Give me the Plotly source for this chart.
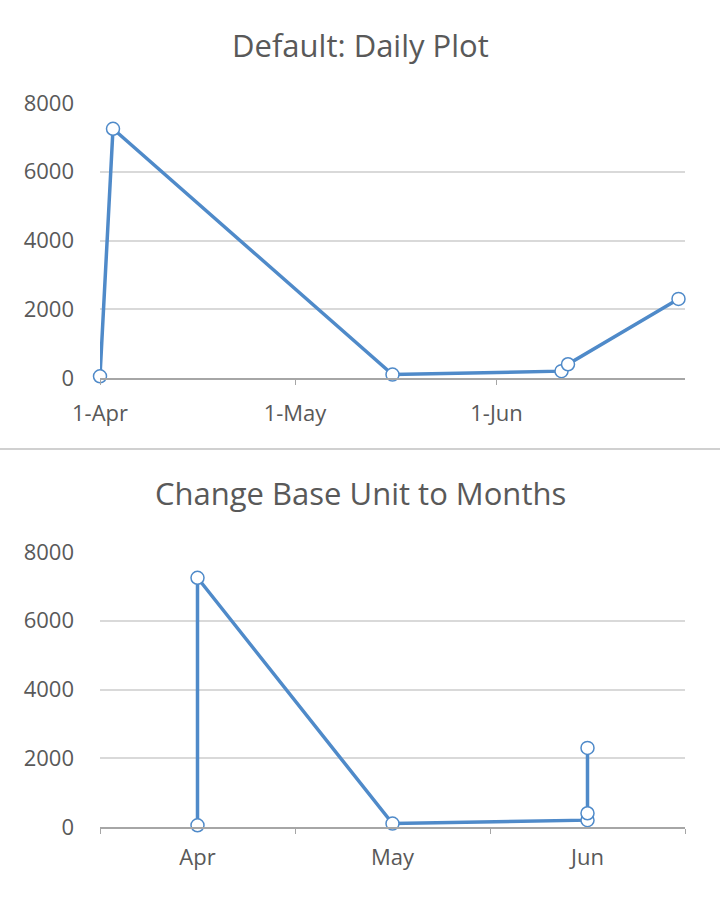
import plotly.graph_objects as go

# Data
dates = ["2023-04-01", "2023-04-03", "2023-05-16", "2023-06-11", "2023-06-12", "2023-06-29"]
values = [50, 7250, 100, 200, 400, 2300]
months = ["Apr", "Apr", "May", "Jun", "Jun", "Jun"]
month_cats = ["Apr", "May", "Jun"]
daily_tickvals = ["2023-04-01", "2023-05-01", "2023-06-01"]
daily_ticktext = ["1-Apr", "1-May", "1-Jun"]
titles = ["Default: Daily Plot", "Change Base Unit to Months"]

W, H = 720, 899
LINE = "#4f8ac9"
FONT = "Open Sans"
TXT = "#595959"

def py(px):
    return 1 - px / H

fig = go.Figure()

marker = dict(symbol="circle", size=13, color="white", line=dict(color=LINE, width=1.5))

fig.add_trace(go.Scatter(x=dates, y=values, mode="lines+markers",
                         line=dict(color=LINE, width=3.5), marker=marker, cliponaxis=False,
                         xaxis="x", yaxis="y", showlegend=False))
fig.add_trace(go.Scatter(x=months, y=values, mode="lines+markers",
                         line=dict(color=LINE, width=3.5), marker=marker, cliponaxis=False,
                         xaxis="x2", yaxis="y2", showlegend=False))

xd = [100 / W, 685 / W]
common_y = dict(range=[0, 8000], dtick=2000, showgrid=True, gridcolor="#d9d9d9", gridwidth=1.5,
                zeroline=False, showline=False, ticks="", automargin=False,
                tickfont=dict(family=FONT, size=22, color=TXT), ticklabelstandoff=25)
common_x = dict(showgrid=False, zeroline=False, showline=True, linecolor="#a6a6a6", linewidth=1.5,
                ticks="outside", ticklen=5, tickcolor="#a6a6a6", automargin=False,
                tickfont=dict(family=FONT, size=22, color=TXT), ticklabelstandoff=10)

fig.update_layout(
    width=W, height=H, margin=dict(l=0, r=0, t=0, b=0),
    paper_bgcolor="white", plot_bgcolor="white",
    xaxis=dict(domain=xd, anchor="y", type="date",
               range=["2023-04-01", "2023-06-30"],
               tickvals=daily_tickvals, ticktext=daily_ticktext, **common_x),
    yaxis=dict(domain=[py(378), py(103)], anchor="x", **common_y),
    xaxis2=dict(domain=xd, anchor="y2", type="category", categoryorder="array",
                categoryarray=month_cats, range=[-0.5, 2.5], tickson="boundaries", **common_x),
    yaxis2=dict(domain=[py(827), py(552)], anchor="x2", **common_y),
    annotations=[
        dict(text=titles[0], x=0.5, y=py(45), xref="paper", yref="paper", showarrow=False,
             font=dict(family=FONT, size=31, color=TXT), xanchor="center", yanchor="middle"),
        dict(text=titles[1], x=0.5, y=py(493), xref="paper", yref="paper", showarrow=False,
             font=dict(family=FONT, size=31, color=TXT), xanchor="center", yanchor="middle"),
    ],
    shapes=[
        dict(type="line", xref="paper", yref="paper", x0=0, x1=1, y0=py(449), y1=py(449),
             line=dict(color="#d0d0d0", width=2)),
    ],
)

fig.write_html("out.html")
